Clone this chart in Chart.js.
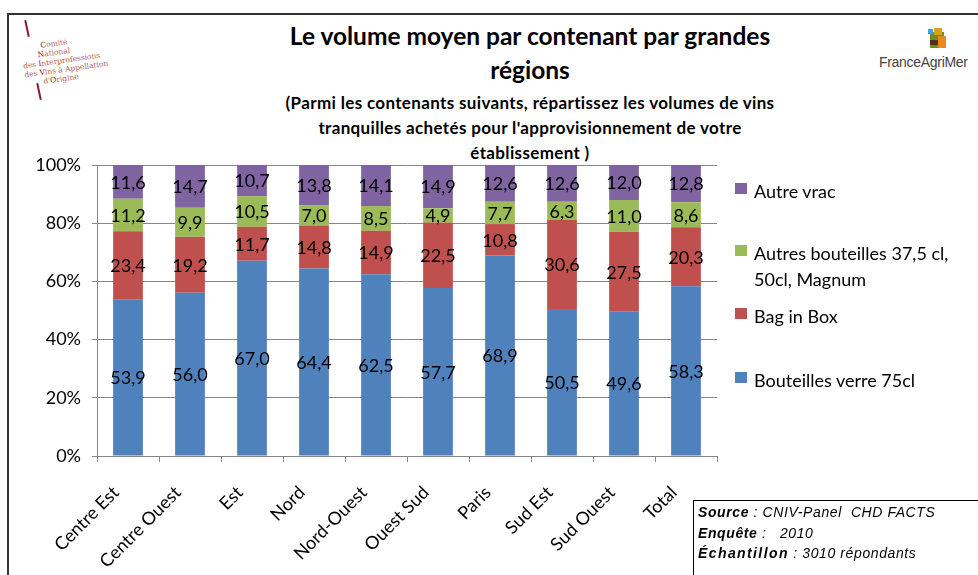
<!DOCTYPE html>
<html>
<head>
<meta charset="utf-8">
<script src="https://cdn.jsdelivr.net/npm/chart.js@4"></script>
<style>
  html, body { margin: 0; padding: 0; background: #fff; }
  body { width: 978px; height: 575px; position: relative; overflow: hidden; font-family: "Liberation Sans", Arial, sans-serif; }
  #frame { position: absolute; left: 7px; top: 13px; width: 1000px; height: 600px; border-left: 2px solid #333; border-top: 2px solid #333; }
  #chartBox { position: absolute; left: 0; top: 0; width: 978px; height: 575px; }
  .title { position: absolute; left: 180px; width: 700px; text-align: center; font-weight: bold; color: #000; font-family: Lato, "Open Sans", sans-serif; }
  #t1 { top: 19px; font-size: 24.5px; line-height: 34px; }
  #t2 { top: 90px; font-size: 17px; letter-spacing: 0.35px; line-height: 25px; }
  #legend { position: absolute; left: 735px; top: 0; font-family: Lato, "Open Sans", sans-serif; font-size: 18px; color: #000; }
  .lg { position: absolute; left: 0; white-space: nowrap; }
  .lg .sw { position: absolute; left: 0; width: 12px; height: 11px; }
  .lg .tx { position: absolute; left: 19px; line-height: 26px; }
  #source { position: absolute; left: 693px; top: 500px; width: 300px; height: 100px; border-left: 1px solid #000; border-top: 1px solid #000; font-size: 14px; letter-spacing: 0.6px; font-style: italic; color: #000; line-height: 20.5px; padding: 1px 0 0 4px; }
  #cniv { position: absolute; left: 14px; top: 18px; width: 100px; height: 90px; color: #b0605c; font-family: "DejaVu Serif", "Liberation Serif", serif; font-size: 7.5px; line-height: 9px; }
  #cniv .stroke { position: absolute; width: 2px; height: 17px; background: #8b1a2e; transform: rotate(-12deg); }
  #cniv .txt { position: absolute; left: 4px; top: 26px; transform: rotate(-8deg); transform-origin: left top; white-space: nowrap; }
  #cniv .txt b { color: #8b1a2e; font-weight: normal; }
  #fam { position: absolute; left: 876px; top: 22px; width: 100px; height: 55px; }
  #fam .ic { position: absolute; }
  #fam .name { position: absolute; left: 3px; top: 32px; font-family: "Liberation Sans Narrow", "Liberation Sans", sans-serif; font-size: 14px; color: #444; letter-spacing: -0.3px; }
</style>
</head>
<body>
<div id="frame"></div>

<div id="cniv">
  <div class="stroke" style="left:12px; top:2px;"></div>
  <div class="txt">
    <div style="padding-left:22px"><b>C</b>omité</div>
    <div style="padding-left:18px"><b>N</b>ational</div>
    <div style="padding-left:2px">des <b>I</b>nterprofessions</div>
    <div style="padding-left:2px">des <b>V</b>ins à Appellation</div>
    <div style="padding-left:20px">d'<b>O</b>rigine</div>
  </div>
  <div class="stroke" style="left:24px; top:65px;"></div>
</div>

<div id="fam">
  <div class="ic" style="left:54px; top:10px; width:14px; height:16px; background:#6a8f2a;"></div>
  <div class="ic" style="left:58px; top:6px; width:8px; height:7px; background:#d8a21a;"></div>
  <div class="ic" style="left:62px; top:14px; width:8px; height:12px; background:#e98a1e;"></div>
  <div class="ic" style="left:54px; top:18px; width:8px; height:5px; background:#5a2a1a;"></div>
  <div class="ic" style="left:52px; top:7px; width:5px; height:5px; background:#3aa7d8;"></div>
  <div class="name">FranceAgriMer</div>
</div>

<div class="title" id="t1">Le volume moyen par contenant par grandes<br>régions</div>
<div class="title" id="t2">(Parmi les contenants suivants, répartissez les volumes de vins<br>tranquilles achetés pour l'approvisionnement de votre<br>établissement )</div>

<div id="chartBox"><canvas id="chart" width="978" height="575"></canvas></div>

<div id="legend"></div>

<div id="source">
  <div><b>Source</b> : CNIV-Panel&nbsp; CHD FACTS</div>
  <div><b>Enquête</b> :&nbsp;&nbsp; 2010</div>
  <div><b style="letter-spacing:1.4px">Échantillon</b> : 3010 répondants</div>
</div>

<script>
const regions = ["Centre Est", "Centre Ouest", "Est", "Nord", "Nord-Ouest", "Ouest Sud", "Paris", "Sud Est", "Sud Ouest", "Total"];
const bouteilles75 = [53.9, 56.0, 67.0, 64.4, 62.5, 57.7, 68.9, 50.5, 49.6, 58.3];
const bagInBox = [23.4, 19.2, 11.7, 14.8, 14.9, 22.5, 10.8, 30.6, 27.5, 20.3];
const autresBouteilles = [11.2, 9.9, 10.5, 7.0, 8.5, 4.9, 7.7, 6.3, 11.0, 8.6];
const autreVrac = [11.6, 14.7, 10.7, 13.8, 14.1, 14.9, 12.6, 12.6, 12.0, 12.8];
const yTicks = [0, 20, 40, 60, 80, 100];

const series = [
  { label: "Bouteilles verre 75cl", values: bouteilles75, color: "#4F81BD" },
  { label: "Bag in Box", values: bagInBox, color: "#C0504D" },
  { label: "Autres bouteilles 37,5 cl, 50cl, Magnum", values: autresBouteilles, color: "#9BBB59" },
  { label: "Autre vrac", values: autreVrac, color: "#8064A2" },
];

// 100% stacked: scale each column to its own total
const totals = regions.map((_, i) => series.reduce((s, d) => s + d.values[i], 0));

function fmt(v) {
  return v.toFixed(1).replace(".", ",");
}

const labelFont = '18px Lato, "Open Sans", sans-serif';

const barLabels = {
  id: "barLabels",
  afterDatasetsDraw(chart) {
    const ctx = chart.ctx;
    ctx.save();
    ctx.font = labelFont;
    ctx.fillStyle = "#000";
    ctx.textAlign = "center";
    ctx.textBaseline = "middle";
    chart.data.datasets.forEach((ds, di) => {
      const meta = chart.getDatasetMeta(di);
      meta.data.forEach((bar, i) => {
        const y = (bar.y + bar.base) / 2;
        ctx.fillText(fmt(series[di].values[i]), bar.x, y + 1);
      });
    });
    ctx.restore();
  },
};

const ctx = document.getElementById("chart").getContext("2d");
new Chart(ctx, {
  type: "bar",
  data: {
    labels: regions,
    datasets: series.map((s) => ({
      label: s.label,
      data: s.values.map((v, i) => (v / totals[i]) * 100),
      backgroundColor: s.color,
      borderWidth: 0,
      categoryPercentage: 1,
      barPercentage: 0.48,
    })),
  },
  options: {
    responsive: false,
    animation: false,
    devicePixelRatio: 1,
    layout: { padding: { left: 0, top: 165, right: 261, bottom: 0 } },
    plugins: { legend: { display: false }, tooltip: { enabled: false } },
    scales: {
      x: {
        stacked: true,
        grid: { offset: true, drawOnChartArea: false, drawTicks: true, tickLength: 6, color: "#868686" },
        border: { color: "#868686" },
        ticks: {
          maxRotation: 45,
          minRotation: 45,
          color: "#000",
          font: { family: 'Lato, "Open Sans", sans-serif', size: 18 },
          padding: 20,
          labelOffset: -12,
        },
        afterFit(scale) { scale.height = 119; },
      },
      y: {
        stacked: true,
        min: 0,
        max: 100,
        afterBuildTicks(scale) { scale.ticks = yTicks.map((v) => ({ value: v })); },
        ticks: {
          color: "#000",
          font: { family: 'Lato, "Open Sans", sans-serif', size: 18 },
          padding: 11,
          callback: (v) => v + "%",
        },
        grid: { color: "#868686", tickLength: 5 },
        border: { color: "#868686" },
        afterFit(scale) { scale.width = 97; },
      },
    },
  },
  plugins: [barLabels],
});

// legend, top to bottom as in the original
const legendPos = [
  { idx: 3, top: 178 },
  { idx: 2, top: 240 },
  { idx: 1, top: 303 },
  { idx: 0, top: 367 },
];
const legendEl = document.getElementById("legend");
legendPos.forEach((p) => {
  const s = series[p.idx];
  const item = document.createElement("div");
  item.className = "lg";
  item.style.top = p.top + "px";
  const sw = document.createElement("div");
  sw.className = "sw";
  sw.style.background = s.color;
  sw.style.top = "5px";
  const tx = document.createElement("div");
  tx.className = "tx";
  tx.innerHTML = p.idx === 2 ? "Autres bouteilles 37,5 cl,<br>50cl, Magnum" : s.label;
  item.appendChild(sw);
  item.appendChild(tx);
  legendEl.appendChild(item);
});
</script>
</body>
</html>
